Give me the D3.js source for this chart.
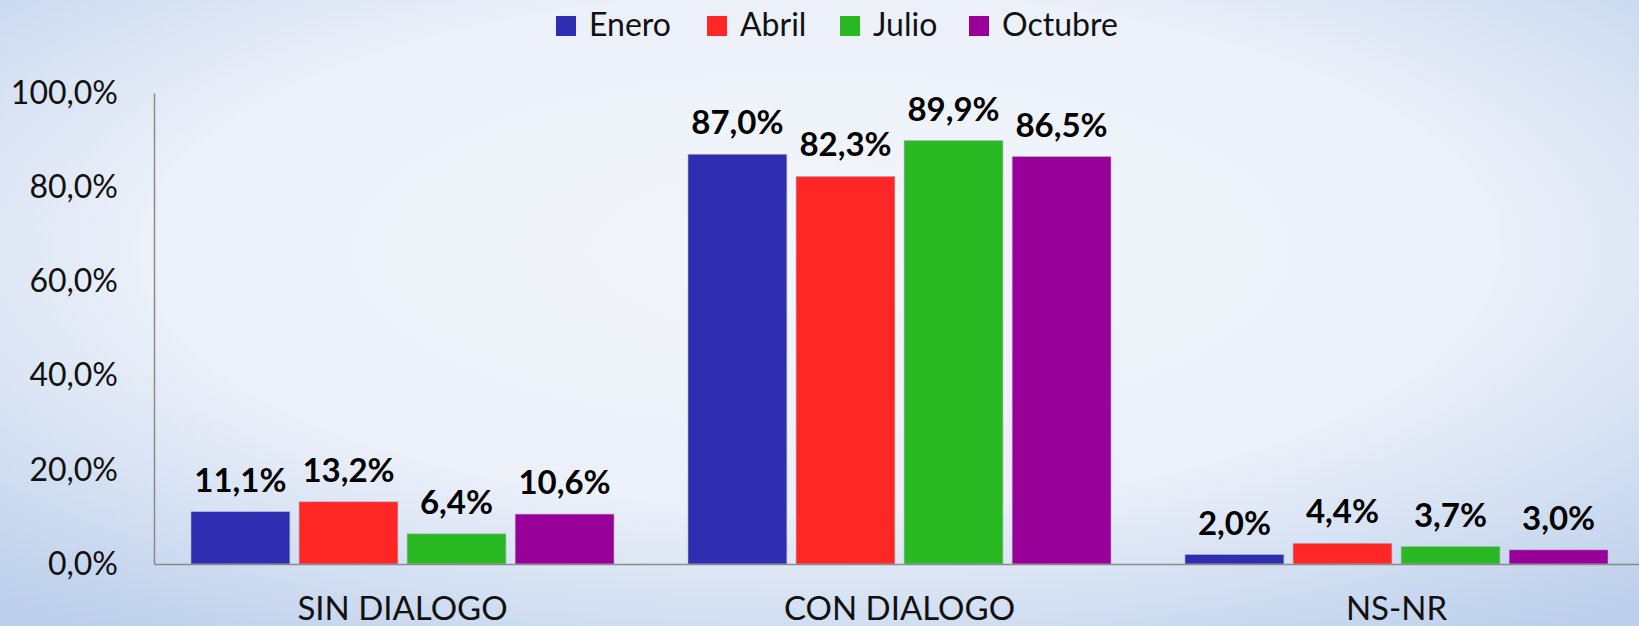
<!DOCTYPE html>
<html>
<head>
<meta charset="utf-8">
<script src="https://cdn.jsdelivr.net/npm/d3@7"></script>
<style>
  body { margin: 0; overflow: hidden; }
  svg { display: block; font-family: Lato, "Open Sans", sans-serif; }
</style>
</head>
<body>
<div id="chart"></div>
<script>
const categories = ["SIN DIALOGO", "CON DIALOGO", "NS-NR"];
const months = ["Enero", "Abril", "Julio", "Octubre"];
const enero = [11.1, 87.0, 2.0];
const abril = [13.2, 82.3, 4.4];
const julio = [6.4, 89.9, 3.7];
const octubre = [10.6, 86.5, 3.0];
const yTicks = [0, 20, 40, 60, 80, 100];
const monthColors = ["#2f2db2", "#ff2626", "#29b922", "#990099"];

const series = [enero, abril, julio, octubre];

const width = 1639, height = 626;
const margin = {top: 93, right: -6, bottom: 62, left: 154};

const svg = d3.select("#chart")
  .append("svg")
  .attr("width", width)
  .attr("height", height);

// background gradient
const defs = svg.append("defs");
const grad = defs.append("radialGradient")
  .attr("id", "bg")
  .attr("cx", "50%").attr("cy", "40%")
  .attr("r", "75%");
grad.append("stop").attr("offset", "0%").attr("stop-color", "#f3f6fb");
grad.append("stop").attr("offset", "55%").attr("stop-color", "#ebf0f9");
grad.append("stop").attr("offset", "100%").attr("stop-color", "#bccfeb");

svg.append("rect")
  .attr("width", width)
  .attr("height", height)
  .attr("fill", "url(#bg)");

const x0 = d3.scaleBand()
  .domain(categories)
  .range([margin.left, width - margin.right])
  .paddingInner(0)
  .paddingOuter(0);

const x1 = d3.scaleBand()
  .domain(months)
  .range([37, x0.bandwidth() - 37])
  .paddingInner(0.085);

const y = d3.scaleLinear()
  .domain([0, 100])
  .range([height - margin.bottom, margin.top]);

const color = d3.scaleOrdinal()
  .domain(months)
  .range(monthColors);

const fmt = v => d3.format(".1f")(v).replace(".", ",") + "%";

// y axis
const yAxis = svg.append("g")
  .attr("transform", `translate(${margin.left},0)`)
  .call(d3.axisLeft(y).tickValues(yTicks).tickSize(0).tickPadding(36).tickFormat(fmt));
yAxis.select(".domain").attr("stroke", "#8a8a8a").attr("stroke-width", 1.5);
yAxis.selectAll("text")
  .attr("font-size", 32)
  .attr("fill", "#111")
  .style("font-family", "Lato, sans-serif");

// bars
const rows = [];
categories.forEach((c, i) => {
  months.forEach((m, j) => {
    rows.push({cat: c, month: m, value: series[j][i]});
  });
});

const groups = svg.append("g");
groups.selectAll("rect")
  .data(rows)
  .enter()
  .append("rect")
    .attr("x", d => x0(d.cat) + x1(d.month))
    .attr("y", d => y(d.value))
    .attr("width", x1.bandwidth())
    .attr("height", d => y(0) - y(d.value))
    .attr("fill", d => color(d.month))
    .attr("stroke", "#b0b0c0")
    .attr("stroke-width", 0.6);

groups.selectAll("text")
  .data(rows)
  .enter()
  .append("text")
    .attr("x", d => x0(d.cat) + x1(d.month) + x1.bandwidth() / 2)
    .attr("y", d => y(d.value) - 20)
    .attr("text-anchor", "middle")
    .attr("font-size", 33)
    .attr("font-weight", "bold")
    .attr("fill", "#000")
    .text(d => fmt(d.value));

// x axis baseline
const xAxis = svg.append("g")
  .attr("transform", `translate(0,${y(0)})`)
  .call(d3.axisBottom(x0).tickSize(0).tickPadding(33));
xAxis.select(".domain").attr("stroke", "#8a8a8a").attr("stroke-width", 1.5);
xAxis.selectAll("text")
  .attr("font-size", 33)
  .attr("fill", "#111")
  .style("font-family", "Lato, sans-serif");

// legend
const legendX = [556, 707, 840, 969];
const legend = svg.append("g");
months.forEach((m, i) => {
  const g = legend.append("g").attr("transform", `translate(${legendX[i]},16)`);
  g.append("rect")
    .attr("width", 20)
    .attr("height", 20)
    .attr("fill", color(m));
  g.append("text")
    .attr("x", 33)
    .attr("y", 20)
    .attr("font-size", 32)
    .attr("fill", "#111")
    .text(m);
});
</script>
</body>
</html>
